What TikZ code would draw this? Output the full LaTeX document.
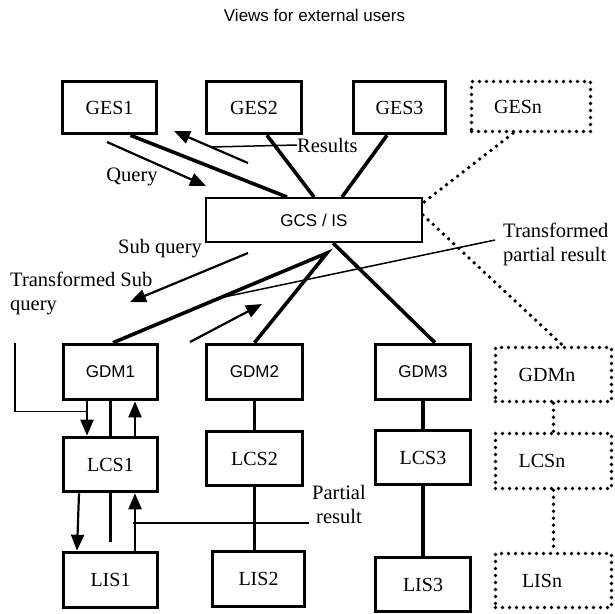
\documentclass[tikz,border=0pt]{standalone}
\usepackage{fontspec}
\setmainfont{Liberation Serif}
\newfontfamily\arialfont{Liberation Sans}
\usetikzlibrary{arrows.meta,calc}

\begin{document}
\begin{tikzpicture}[x=1pt,y=-1pt,
  box/.style={draw, line width=3.6pt, minimum width=94pt, minimum height=52pt, inner sep=0pt, font=\fontsize{20}{24}\selectfont},
  sbox/.style={box, font=\arialfont\fontsize{17}{20}\selectfont},
  dotbox/.style={box, line width=3.6pt, dash pattern=on 0pt off 7pt, line cap=round},
  link/.style={line width=3.6pt},
  dotlink/.style={line width=3.8pt, dash pattern=on 0pt off 7pt, line cap=round},
  flow/.style={line width=2.2pt, -{Triangle[length=16pt,width=13pt]}},
  note/.style={line width=1.5pt},
  lbl/.style={inner sep=0pt, font=\fontsize{20.5}{24}\selectfont}]
\useasboundingbox (0,0) rectangle (614,614);
\node[font=\arialfont\fontsize{17}{20}\selectfont] (title) at (314.5,15) {Views for external users};
% external schemas
\node[box, minimum width=94pt] (ges1) at (109.5,107.5) {GES1};
\node[box, minimum width=95pt] (ges2) at (254,107.5) {GES2};
\node[box, minimum width=92pt] (ges3) at (399.5,107.5) {GES3};
\node[dotbox, minimum width=119pt, minimum height=50pt] (gesn) at (531,106.5) {GESn\hspace*{26pt}};
\node[sbox, line width=2pt, minimum width=216pt, minimum height=44pt] (gcs) at (314,220) {GCS / IS};
% local sites
\node[sbox, minimum width=94pt, minimum height=55pt] (gdm1) at (110.5,372) {GDM1};
\node[sbox, minimum width=96pt, minimum height=55pt] (gdm2) at (254.5,372) {GDM2};
\node[sbox, minimum width=95pt, minimum height=55pt] (gdm3) at (423,372) {GDM3};
\node[dotbox, minimum width=116pt, minimum height=54pt] (gdmn) at (553.5,374.5) {GDMn\hspace*{13pt}};
\node[box, minimum width=94pt, minimum height=54pt] (lcs1) at (110.5,464.5) {LCS1};
\node[box, minimum width=96pt, minimum height=54pt] (lcs2) at (254.5,458.5) {LCS2};
\node[box, minimum width=95pt, minimum height=54pt] (lcs3) at (423,457.5) {LCS3};
\node[dotbox, minimum width=116pt, minimum height=55pt] (lcsn) at (553.5,461) {LCSn\hspace*{23pt}};
\node[box, minimum width=94pt, minimum height=55pt] (lis1) at (110.5,580) {LIS1};
\node[box, minimum width=92pt, minimum height=55pt] (lis2) at (258.5,579) {LIS2};
\node[box, minimum width=95pt, minimum height=54pt] (lis3) at (423,584.5) {LIS3};
\node[dotbox, minimum width=116pt, minimum height=54pt] (lisn) at (553.5,580.5) {LISn\hspace*{23pt}};
% links
\draw[link] ([xshift=21pt]ges1.south) -- ([xshift=-27pt]gcs.north);
\draw[link] ([xshift=13pt]ges2.south) -- (gcs.north);
\draw[link] ([xshift=-12.5pt]ges3.south) -- ([xshift=28pt]gcs.north);
\draw[dotlink] ([xshift=-18pt]gesn.south) -- ([yshift=-6pt]gcs.north east);
\draw[dotlink] ([yshift=5pt]gcs.east) -- ([xshift=9.5pt]gdmn.north);
\coordinate (hub) at ([xshift=13pt,yshift=-10pt]gcs.south);
\draw[link] ([xshift=2.5pt]gdm1.north) -- (hub) -- (gdm2.north);
\draw[link] ([xshift=19pt]gcs.south) -- ([xshift=12pt]gdm3.north);
\draw[link] (gdm1.south) -- (lcs1.north);
\draw[link] (lcs1.south) -- ([yshift=9pt]lis1.north);
\draw[link] (gdm2.south) -- (lcs2.north);
\draw[link] (lcs2.south) -- (lcs2.south |- lis2.north);
\draw[link] (gdm3.south) -- (lcs3.north);
\draw[link] (lcs3.south) -- (lis3.north);
\draw[dotlink] (gdmn.south) -- (lcsn.north);
\draw[dotlink] (lcsn.south) -- (lisn.north);
% message flow
\draw[flow] ([xshift=-23.5pt]gdm1.south) -- ([xshift=-23.5pt]lcs1.north);
\draw[flow] ([xshift=24.5pt]lcs1.north) -- ([xshift=24.5pt]gdm1.south);
\draw[flow] ([xshift=-31.5pt]lcs1.south) -- ([xshift=-33.5pt]lis1.north);
\draw[flow] ([xshift=24.5pt]lis1.north) -- ([xshift=24.5pt]lcs1.south);
\coordinate (ext) at (15,343);
\draw[note] (ext) |- ([xshift=-23.5pt,yshift=-10pt]gdm1.south);
\coordinate (resA) at (248,163);
\coordinate (resB) at (174,131);
\coordinate (qA) at (107,142);
\coordinate (qB) at (206,186);
\coordinate (sqA) at (248,253);
\coordinate (sqB) at (130,302);
\coordinate (upA) at (190,342);
\coordinate (upB) at (262,304);
\draw[flow] (resA) -- (resB);
\draw[flow] (qA) -- (qB);
\draw[flow] (sqA) -- (sqB);
\draw[flow] (upA) -- (upB);
% labels
\node[lbl, anchor=west] (resl) at (297,145) {Results};
\draw[note] ($(resA)!0.5!(resB)$) -- (resl.west);
\node[lbl] (ql) at (132,177) {Query};
\node[lbl] (sql) at (160,249) {Sub query};
\node[lbl, align=left, anchor=west] (tsql) at (10,293) {Transformed Sub\\query};
\node[lbl, align=left, anchor=west] (tprl) at (503,244) {Transformed\\partial result};
\draw[note] ($(hub)!0.5!([xshift=2.5pt]gdm1.north)$) -- ([xshift=-8pt,yshift=4pt]tprl.west);
\node[lbl, align=center] (prl) at (339,504) {Partial\\result};
\coordinate (prA) at (133,523);
\coordinate (prB) at (prA -| prl.west);
\draw[note] (prA) -- ([xshift=-3pt]prB);
\end{tikzpicture}
\end{document}
